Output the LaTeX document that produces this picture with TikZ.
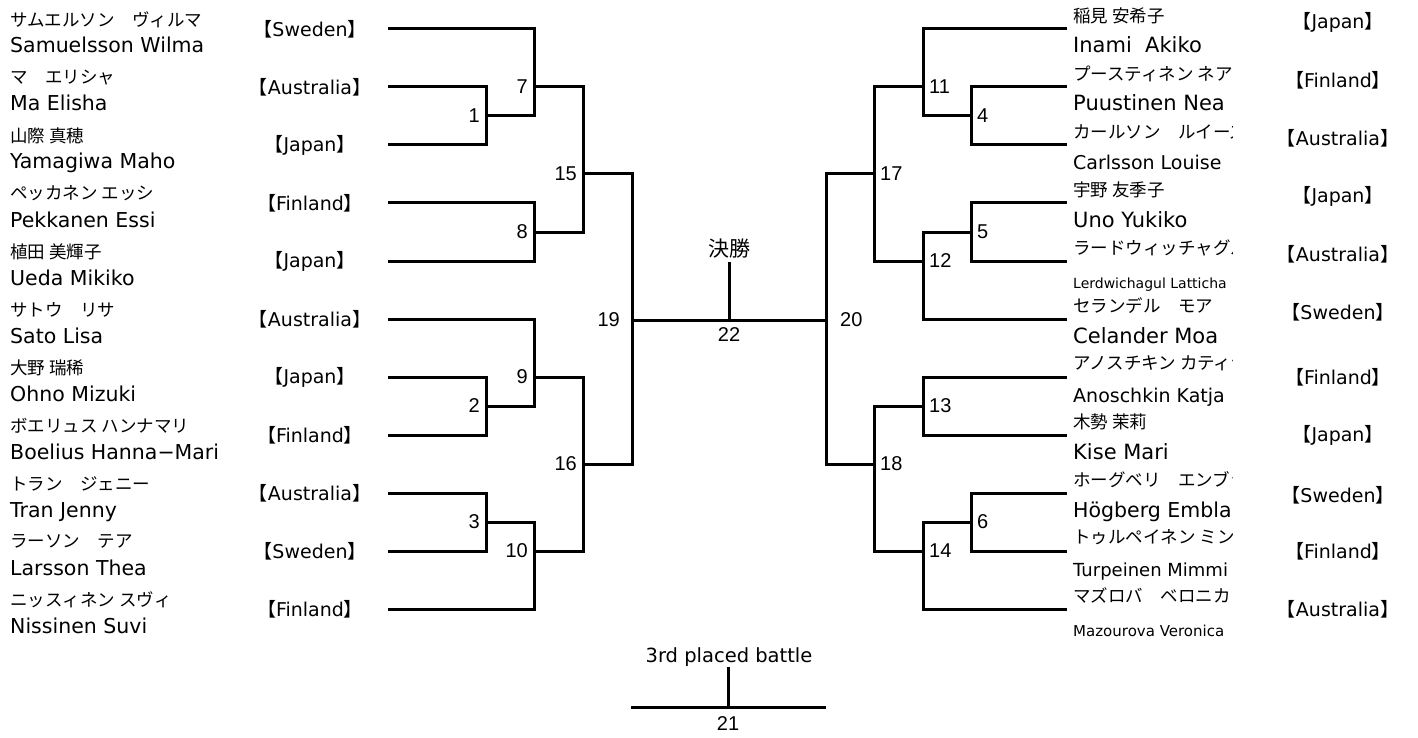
\documentclass[tikz,border=0pt]{standalone}
\usepackage{fontspec}
\setmainfont{DejaVu Sans}
\newfontfamily\jpfont{Noto Sans CJK JP}
\newfontfamily\numfont{Liberation Sans}
\newcommand{\fsz}[1]{\fontsize{#1}{#1}\selectfont}
\newcommand{\ctry}[1]{{\jpfont 【}#1{\jpfont 】}}

\tikzset{
  bk/.style={line width=3pt},
  kana/.style={font=\jpfont\fsz{17.5}, anchor=west, inner sep=0},
  latin/.style={anchor=base west, inner sep=0},
  cty/.style={font=\fsz{19}, inner sep=0},
  num/.style={font=\numfont\fsz{20}, inner sep=0},
}

\begin{document}
\begin{tikzpicture}[x=1pt,y=-1pt]
  \useasboundingbox (0,0) rectangle (1418,738);

  % left players
  \foreach \i/\y/\kn/\lat/\co in {
      0/29/サムエルソン　ヴィルマ/Samuelsson Wilma/Sweden,
      1/87/マ　エリシャ/Ma Elisha/Australia,
      2/145/山際 真穂/Yamagiwa Maho/Japan,
      3/203/ペッカネン エッシ/Pekkanen Essi/Finland,
      4/261/植田 美輝子/Ueda Mikiko/Japan,
      5/319/サトウ　リサ/Sato Lisa/Australia,
      6/377/大野 瑞稀/Ohno Mizuki/Japan,
      7/435/ボエリュス ハンナマリ/Boelius Hanna−Mari/Finland,
      8/493/トラン　ジェニー/Tran Jenny/Australia,
      9/551/ラーソン　テア/Larsson Thea/Sweden,
      10/609/ニッスィネン スヴィ/Nissinen Suvi/Finland}{
    \node[kana] (lk\i) at (10,{\y-9.5}) {\kn};
    \node[latin, font=\fsz{20.5}] (ll\i) at (10,{\y+24}) {\lat};
    \node[cty] (lc\i) at (310,\y) {\ctry{\co}};
    \coordinate (L\i) at (388,\y);
  }

  % right players
  \begin{scope}
    \clip (1068,0) rectangle (1232,738);
    \foreach \i/\y/\kn/\lat/\sz in {
        0/29/稲見 安希子/Inami~~Akiko/21,
        1/87/プースティネン ネア/Puustinen Nea/21,
        2/145/カールソン　ルイーズ/Carlsson Louise/19,
        3/203/宇野 友季子/Uno Yukiko/21,
        4/261/ラードウィッチャグル/Lerdwichagul Latticha/14,
        5/319/セランデル　モア/Celander Moa/21,
        6/377/アノスチキン カティヤ/Anoschkin Katja/19,
        7/435/木勢 茉莉/Kise Mari/21,
        8/493/ホーグベリ　エンブラ/Högberg Embla/20.5,
        9/551/トゥルペイネン ミンミ/Turpeinen Mimmi/18,
        10/609/マズロバ　ベロニカ/Mazourova Veronica/15}{
      \node[kana] (rk\i) at (1073,{\y-13.5}) {\kn};
      \node[latin, font=\fsz{\sz}] (rl\i) at (1073,{\y+24+(21-\sz)*0.5}) {\lat};
      \coordinate (R\i) at (1067,\y);
    }
  \end{scope}
  \foreach \i/\y/\co in {0/22/Japan, 1/80/Finland, 2/138/Australia, 3/196/Japan,
      4/254/Australia, 5/312/Sweden, 6/377/Finland, 7/435/Japan, 8/495/Sweden,
      9/551/Finland, 10/609/Australia}
    \node[cty] (rc\i) at (1338,\y) {\ctry{\co}};

  % match points
  \foreach \m/\x/\y in {1/486/116, 2/486/406, 3/486/522, 7/534/87, 8/534/232,
      9/534/377, 10/534/551, 15/583/174, 16/583/464}{
    \coordinate (m\m) at (\x,\y);
    \node[num, anchor=east] (n\m) at ({\x-6},\y) {\m};
  }
  \foreach \m/\x/\y in {4/971/116, 5/971/232, 6/971/522, 11/923/87, 12/923/261,
      13/923/406, 14/923/551, 17/874/174, 18/874/464}{
    \coordinate (m\m) at (\x,\y);
    \node[num, anchor=west] (n\m) at ({\x+6},\y) {\m};
  }
  \coordinate (m19) at (632,320);
  \node[num, anchor=east] (n19) at (620,320) {19};
  \coordinate (m20) at (826,320);
  \node[num, anchor=west] (n20) at (840,320) {20};

  % bracket lines
  \foreach \a/\b in {L0/m7, L1/m1, L2/m1, m1/m7, m7/m15, L3/m8, L4/m8, m8/m15,
      m15/m19, L5/m9, L6/m2, L7/m2, m2/m9, m9/m16, L8/m3, L9/m3, m3/m10,
      L10/m10, m10/m16, m16/m19,
      R0/m11, R1/m4, R2/m4, m4/m11, m11/m17, R3/m5, R4/m5, m5/m12, R5/m12,
      m12/m17, m17/m20, R6/m13, R7/m13, m13/m18, R8/m6, R9/m6, m6/m14,
      R10/m14, m14/m18, m18/m20}
    \draw[bk] (\a) -| (\b);

  % final
  \coordinate (m22) at (729,320);
  \coordinate (fintop) at (729,262);
  \draw[bk] (m19) -- (m20);
  \draw[bk] (m22) -- (fintop);
  \node[font=\jpfont\fsz{21}, anchor=south, inner sep=0] (fin) at (729,258) {決勝};
  \node[num, anchor=north] (n22) at (729,327) {22};

  % 3rd place
  \coordinate (t3l) at (631,707);
  \coordinate (t3r) at (826,707);
  \coordinate (m21) at (728,707);
  \coordinate (t3top) at (728,667);
  \draw[bk] (t3l) -- (t3r);
  \draw[bk] (m21) -- (t3top);
  \node[font=\fsz{19.5}, anchor=base, inner sep=0] (third) at (729,662) {3rd placed battle};
  \node[num, anchor=north] (n21) at (728,716) {21};
\end{tikzpicture}
\end{document}
